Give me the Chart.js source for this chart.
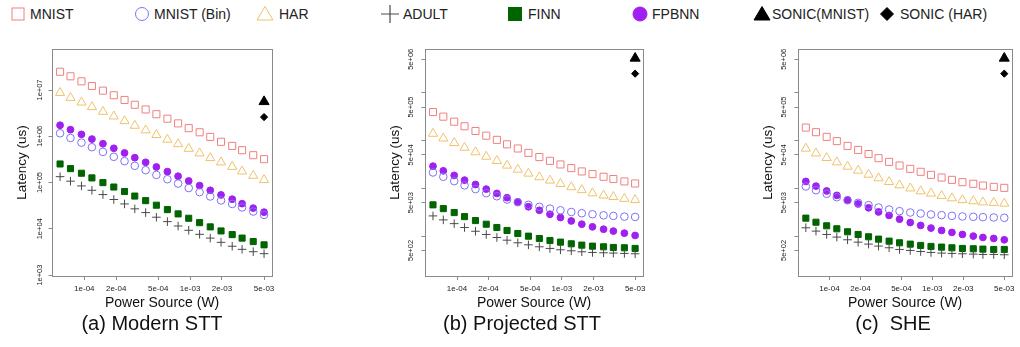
<!DOCTYPE html>
<html>
<head>
<meta charset="utf-8">
<script src="https://cdn.jsdelivr.net/npm/chart.js@4/dist/chart.umd.min.js"></script>
<style>
  body { margin: 0; background: #fff; }
  #page { position: relative; width: 1020px; height: 347px; overflow: hidden; font-family: 'Liberation Sans', Arial, sans-serif; }
  canvas { position: absolute; top: 30px; }
  .cap { position: absolute; top: 312px; font-size: 20px; white-space: pre; color: #111; transform: translateX(-50%); }
  .leg { position: absolute; top: 4px; height: 20px; font-size: 14px; line-height: 20px; color: #222; white-space: pre; }
  .leg svg { position: absolute; top: 0; }
</style>
</head>
<body>
<div id="page">
  <div id="legend"></div>
  <canvas id="chartA" width="279" height="290" style="left:0px"></canvas>
  <canvas id="chartB" width="277" height="290" style="left:373px"></canvas>
  <canvas id="chartC" width="273" height="290" style="left:746px"></canvas>
  <div class="cap" style="left:152px">(a) Modern STT</div>
  <div class="cap" style="left:522px">(b) Projected STT</div>
  <div class="cap" style="left:893px">(c)  SHE</div>
</div>
<script>
// power source (W), same for all three panels
var power = [5.9e-5, 7.4e-5, 9.4e-5, 1.18e-4, 1.5e-4, 1.9e-4, 2.4e-4, 3.0e-4, 3.8e-4, 4.8e-4,
             6.1e-4, 7.7e-4, 9.7e-4, 1.23e-3, 1.55e-3, 1.96e-3, 2.5e-3, 3.1e-3, 3.95e-3, 5e-3];
var sonicPower = [5e-3];

// (a) Modern STT
var mnistA    = [2.48e7, 1.98e7, 1.54e7, 1.22e7, 9.7e6, 7.7e6, 6.1e6, 4.8e6, 3.8e6, 3.0e6, 2.4e6, 1.9e6, 1.5e6, 1.22e6, 9.7e5, 7.6e5, 6.2e5, 5.0e5, 3.9e5, 3.2e5];
var mnistBinA = [1.16e6, 9.2e5, 7.3e5, 5.8e5, 4.6e5, 3.6e5, 2.9e5, 2.3e5, 1.85e5, 1.46e5, 1.18e5, 9.5e4, 7.6e4, 6.2e4, 5.0e4, 4.1e4, 3.45e4, 2.9e4, 2.36e4, 2.0e4];
var harA      = [8.7e6, 6.8e6, 5.4e6, 4.3e6, 3.4e6, 2.7e6, 2.14e6, 1.7e6, 1.35e6, 1.07e6, 8.5e5, 6.8e5, 5.4e5, 4.3e5, 3.4e5, 2.74e5, 2.2e5, 1.75e5, 1.41e5, 1.14e5];
var adultA    = [1.34e5, 1.07e5, 8.45e4, 6.8e4, 5.5e4, 4.3e4, 3.45e4, 2.7e4, 2.24e4, 1.78e4, 1.43e4, 1.15e4, 9.3e3, 7.6e3, 6.3e3, 5.1e3, 4.2e3, 3.6e3, 3.2e3, 2.9e3];
var finnA     = [2.52e5, 2.0e5, 1.59e5, 1.26e5, 9.95e4, 8.0e4, 6.4e4, 5.1e4, 4.06e4, 3.24e4, 2.6e4, 2.1e4, 1.69e4, 1.36e4, 1.1e4, 9.0e3, 7.5e3, 6.3e3, 5.3e3, 4.5e3];
var fpbnnA    = [1.73e6, 1.39e6, 1.10e6, 8.7e5, 6.9e5, 5.5e5, 4.36e5, 3.45e5, 2.74e5, 2.17e5, 1.72e5, 1.37e5, 1.08e5, 8.6e4, 6.8e4, 5.4e4, 4.36e4, 3.5e4, 2.8e4, 2.29e4];
var sonicMnistA = [5.6e6];
var sonicHarA   = [2.6e6];

// (b) Projected STT
var mnistB    = [3.94e5, 3.15e5, 2.47e5, 1.98e5, 1.58e5, 1.26e5, 1.03e5, 8.3e4, 6.8e4, 5.5e4, 4.5e4, 3.75e4, 3.15e4, 2.64e4, 2.25e4, 1.98e4, 1.74e4, 1.56e4, 1.39e4, 1.26e4];
var mnistBinB = [2.14e4, 1.74e4, 1.41e4, 1.15e4, 9.6e3, 7.9e3, 6.8e3, 5.8e3, 5.1e3, 4.5e3, 4.1e3, 3.75e3, 3.46e3, 3.19e3, 3.0e3, 2.86e3, 2.72e3, 2.64e3, 2.55e3, 2.51e3];
var harB      = [1.39e5, 1.11e5, 8.9e4, 7.1e4, 5.7e4, 4.6e4, 3.75e4, 3.0e4, 2.47e4, 2.04e4, 1.71e4, 1.46e4, 1.24e4, 1.06e4, 9.2e3, 7.9e3, 7.1e3, 6.6e3, 6.05e3, 5.7e3];
var adultB    = [2.64e3, 2.18e3, 1.82e3, 1.51e3, 1.26e3, 1.08e3, 933, 820, 723, 656, 596, 551, 516, 492, 469, 454, 447, 440, 433, 426];
var finnB     = [4.5e3, 3.75e3, 3.1e3, 2.55e3, 2.11e3, 1.77e3, 1.51e3, 1.31e3, 1.13e3, 995, 890, 807, 746, 689, 646, 615, 596, 577, 569, 551];
var fpbnnB    = [2.9e4, 2.32e4, 1.86e4, 1.48e4, 1.2e4, 9.6e3, 7.8e3, 6.35e3, 5.2e3, 4.1e3, 3.46e3, 2.86e3, 2.44e3, 2.07e3, 1.77e3, 1.56e3, 1.39e3, 1.27e3, 1.15e3, 1.03e3];
var sonicMnistB = [5.25e6];
var sonicHarB   = [2.5e6];

// (c) SHE
var mnistC    = [1.86e5, 1.49e5, 1.19e5, 9.7e4, 7.7e4, 6.35e4, 5.2e4, 4.26e4, 3.57e4, 2.99e4, 2.55e4, 2.21e4, 1.91e4, 1.68e4, 1.5e4, 1.34e4, 1.24e4, 1.14e4, 1.07e4, 1.02e4];
var mnistBinC = [1.09e4, 9.1e3, 7.65e3, 6.5e3, 5.6e3, 4.97e3, 4.44e3, 3.96e3, 3.6e3, 3.32e3, 3.11e3, 2.96e3, 2.83e3, 2.74e3, 2.65e3, 2.57e3, 2.53e3, 2.49e3, 2.45e3, 2.41e3];
var harC      = [6.8e4, 5.4e4, 4.33e4, 3.5e4, 2.85e4, 2.35e4, 1.94e4, 1.63e4, 1.36e4, 1.16e4, 1.0e4, 8.7e3, 7.8e3, 6.95e3, 6.2e3, 5.7e3, 5.4e3, 5.1e3, 4.97e3, 4.8e3];
var adultC    = [1.49e3, 1.27e3, 1.08e3, 951, 836, 746, 679, 617, 569, 525, 500, 476, 454, 440, 433, 426, 419, 412, 412, 406];
var finnC     = [2.37e3, 1.95e3, 1.64e3, 1.42e3, 1.23e3, 1.08e3, 966, 863, 783, 723, 678, 637, 607, 587, 569, 551, 542, 533, 525, 525];
var fpbnnC    = [1.39e4, 1.11e4, 8.8e3, 7.1e3, 5.7e3, 4.7e3, 3.9e3, 3.2e3, 2.7e3, 2.26e3, 1.92e3, 1.67e3, 1.47e3, 1.31e3, 1.19e3, 1.08e3, 998, 935, 891, 836];
var sonicMnistC = [5.25e6];
var sonicHarC   = [2.5e6];

// ticks
var xTicks = [1e-4, 2e-4, 5e-4, 1e-3, 2e-3, 5e-3];
var xTickLabels = ['1e-04', '2e-04', '5e-04', '1e-03', '2e-03', '5e-03'];
var yTicksA = [1e3, 1e4, 1e5, 1e6, 1e7];
var yTickLabelsA = ['1e+03', '1e+04', '1e+05', '1e+06', '1e+07'];
var yTicksBC = [5e2, 1e3, 5e3, 1e4, 5e4, 1e5, 5e5, 1e6, 5e6];
var yTickLabelsBC = ['5e+02', '', '5e+03', '', '5e+04', '', '5e+05', '', '5e+06'];

var seriesNames = ['MNIST', 'MNIST (Bin)', 'HAR', 'ADULT', 'FINN', 'FPBNN', 'SONIC(MNIST)', 'SONIC (HAR)'];

// marker style per series
var styles = [
  { pointStyle: 'rect',     radius: 5,   border: '#f08080', fill: 'rgba(0,0,0,0)' },
  { pointStyle: 'circle',   radius: 3.8, border: '#7f72f5', fill: 'rgba(0,0,0,0)' },
  { pointStyle: 'triangle', radius: 5.3, border: '#f0c26c', fill: 'rgba(0,0,0,0)' },
  { pointStyle: 'cross',    radius: 4.3, border: '#4a4a4a', fill: 'rgba(0,0,0,0)' },
  { pointStyle: 'rect',     radius: 4.3, border: '#006400', fill: '#006400' },
  { pointStyle: 'circle',   radius: 3.4, border: '#a020f0', fill: '#a020f0' },
  { pointStyle: 'triangle', radius: 5.8, border: '#000000', fill: '#000000' },
  { pointStyle: 'rectRot',  radius: 3.6, border: '#000000', fill: '#000000' }
];

Chart.defaults.font.family = "'Liberation Sans', Arial, sans-serif";
Chart.defaults.color = '#222';

var boxPlugin = {
  id: 'box',
  beforeDatasetsDraw: function (chart) {
    var a = chart.chartArea, ctx = chart.ctx;
    ctx.save();
    ctx.strokeStyle = '#8a8a8a';
    ctx.lineWidth = 1;
    ctx.strokeRect(Math.round(a.left) + 0.5, Math.round(a.top) + 0.5, Math.round(a.width), Math.round(a.height));
    ctx.restore();
  }
};

function pts(xs, ys) {
  return ys.map(function (v, i) { return { x: xs[i], y: v }; });
}

function makePanel(id, ys, yMin, yMax, yTicks, yLabels, yPad, rightPad) {
  var datasets = ys.map(function (s, i) {
    var st = styles[i];
    return {
      label: seriesNames[i],
      data: pts(i < 6 ? power : sonicPower, s),
      showLine: false,
      pointStyle: st.pointStyle,
      pointRadius: st.radius,
      pointHoverRadius: st.radius,
      pointBorderColor: st.border,
      pointBackgroundColor: st.fill,
      pointBorderWidth: 1
    };
  });
  return new Chart(document.getElementById(id), {
    type: 'scatter',
    data: { datasets: datasets },
    plugins: [boxPlugin],
    options: {
      responsive: false,
      animation: false,
      devicePixelRatio: 1,
      layout: { padding: { left: 0, top: 19, right: rightPad, bottom: 0 } },
      plugins: { legend: { display: false }, tooltip: { enabled: false } },
      scales: {
        x: {
          type: 'logarithmic',
          min: 4.95e-5,
          max: 5.97e-3,
          afterBuildTicks: function (scale) { scale.ticks = xTicks.map(function (v) { return { value: v }; }); },
          afterFit: function (scale) { scale.height = 290 - 19 - 227; },
          border: { display: false },
          grid: { drawOnChartArea: false, drawTicks: true, tickLength: 4, color: '#8a8a8a' },
          ticks: {
            autoSkip: false, maxRotation: 0, padding: 4, color: '#222',
            font: { size: 8 },
            callback: function (v, i) { return xTickLabels[i]; }
          },
          title: { display: true, text: 'Power Source (W)', font: { size: 14 }, color: '#111', padding: { top: 0, bottom: 8.6 } }
        },
        y: {
          type: 'logarithmic',
          min: yMin,
          max: yMax,
          afterBuildTicks: function (scale) { scale.ticks = yTicks.map(function (v) { return { value: v }; }); },
          afterFit: function (scale) { scale.width = 52; },
          border: { display: false },
          grid: { drawOnChartArea: false, drawTicks: true, tickLength: 3.5, color: '#8a8a8a' },
          ticks: {
            autoSkip: false, minRotation: 90, maxRotation: 90, crossAlign: 'center', padding: yPad, color: '#222',
            font: { size: 7.5 },
            callback: function (v, i) { return yLabels[i]; }
          },
          title: { display: true, text: 'Latency (us)', font: { size: 13.5 }, color: '#111', padding: { top: 14, bottom: 0 } }
        }
      }
    }
  });
}

makePanel('chartA', [mnistA, mnistBinA, harA, adultA, finnA, fpbnnA, sonicMnistA, sonicHarA],
          955, 7.7e7, yTicksA, yTickLabelsA, -2.2, 6);
makePanel('chartB', [mnistB, mnistBinB, harB, adultB, finnB, fpbnnB, sonicMnistB, sonicHarB],
          146, 8.2e6, yTicksBC, yTickLabelsBC, -0.4, 6);
makePanel('chartC', [mnistC, mnistBinC, harC, adultC, finnC, fpbnnC, sonicMnistC, sonicHarC],
          146, 8.2e6, yTicksBC, yTickLabelsBC, -0.4, 2);

// legend across the top, one slot per series
var legMarkerX = [18, 141.5, 265, 390, 514.5, 640, 761.5, 886.5];
var legTextX = [30, 154, 279, 403, 528, 652, 772, 900];
var svgShapes = {
  rect: function (c, f, big) { var h = big ? 6.5 : 6; return '<rect x="' + (10 - h) + '" y="' + (10 - h) + '" width="' + 2 * h + '" height="' + 2 * h + '" fill="' + f + '" stroke="' + c + '"/>'; },
  circle: function (c, f, big) { return '<circle cx="10" cy="10" r="' + (big ? 7 : 6.5) + '" fill="' + f + '" stroke="' + c + '"/>'; },
  triangle: function (c, f) { return '<polygon points="10,2.5 18,16 2,16" fill="' + f + '" stroke="' + c + '"/>'; },
  cross: function (c) { return '<path d="M1 10H19M10 1V19" stroke="' + c + '" stroke-width="1.2"/>'; },
  rectRot: function (c, f) { return '<polygon points="10,3.5 16.5,10 10,16.5 3.5,10" fill="' + f + '" stroke="' + c + '"/>'; }
};
var legend = document.getElementById('legend');
seriesNames.forEach(function (name, i) {
  var st = styles[i];
  var filled = st.fill !== 'rgba(0,0,0,0)';
  var fill = filled ? st.fill : 'none';
  var m = document.createElement('div');
  m.className = 'leg';
  m.style.left = (legMarkerX[i] - 10) + 'px';
  m.innerHTML = '<svg width="20" height="20" viewBox="0 0 20 20">' + svgShapes[st.pointStyle](st.border, fill, filled) + '</svg>';
  legend.appendChild(m);
  var t = document.createElement('div');
  t.className = 'leg';
  t.style.left = legTextX[i] + 'px';
  t.textContent = name;
  legend.appendChild(t);
});
</script>
</body>
</html>
